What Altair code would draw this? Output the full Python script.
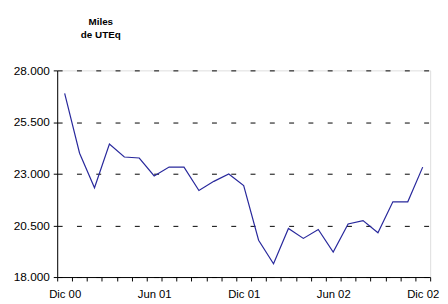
import altair as alt
import pandas as pd

months = ["Dic 00", "Ene 01", "Feb 01", "Mar 01", "Abr 01", "May 01", "Jun 01",
          "Jul 01", "Ago 01", "Sep 01", "Oct 01", "Nov 01", "Dic 01",
          "Ene 02", "Feb 02", "Mar 02", "Abr 02", "May 02", "Jun 02",
          "Jul 02", "Ago 02", "Sep 02", "Oct 02", "Nov 02", "Dic 02"]
values = [26890, 23990, 22320, 24440, 23810, 23760, 22890, 23320, 23320,
          22190, 22630, 22990, 22430, 19780, 18640, 20350, 19870, 20300,
          19210, 20570, 20730, 20140, 21640, 21640, 23320]
y_ticks = [18000, 20500, 23000, 25500, 28000]
label_every = 6

df = pd.DataFrame({"idx": list(range(len(months))), "mes": months, "valor": values})

FONT = "Liberation Sans"

tick_vals = [i - 0.5 for i in range(len(months) + 1)]
# label expression: label shown at the tick left of the category, shifted by labelOffset
expr = "''"
for i in range(len(months) - 1, -1, -1):
    if i % label_every == 0:
        expr = f"(datum.value == {i - 0.5}) ? '{months[i]}' : ({expr})"

x = alt.X("idx:Q",
          scale=alt.Scale(domain=[-0.5, len(months) - 0.5], nice=False, zero=False),
          axis=alt.Axis(values=tick_vals, labelExpr=expr, labelOffset=7.6,
                        title=None, grid=False, domainColor="black", tickColor="black",
                        tickSize=4, labelFontSize=11.5, labelColor="black",
                        labelPadding=8, labelFont=FONT, labelFlush=False,
                        labelOverlap=False))
y = alt.Y("valor:Q",
          scale=alt.Scale(domain=[18000, 28000], nice=False, zero=False),
          axis=alt.Axis(values=y_ticks,
                        labelExpr="replace(format(datum.value, ',.0f'), ',', '.')",
                        title=None, grid=True, gridColor="black", gridDash=[5, 14.6],
                        gridWidth=1, domainColor="black", tickColor="black", tickSize=4,
                        labelFontSize=12, labelColor="black", labelPadding=4,
                        labelFont=FONT))

chart = alt.Chart(df).mark_line(color="#28289c", strokeWidth=1.2).encode(
    x=x, y=y
).properties(
    width=379, height=210,
    title=alt.TitleParams(["Miles", "de UTEq"], anchor="start", align="center",
                          dx=89, fontSize=10, fontWeight="bold",
                          font="Liberation Sans", lineHeight=13, offset=25,
                          color="black"),
    autosize=alt.AutoSizeParams(type="none"),
    padding={"left": 50, "top": 61, "right": 10, "bottom": 26},
).configure_view(stroke="#a8a8a8", strokeWidth=1).configure(background="white")

chart.save("out.html", embed_options={"renderer": "svg", "actions": False})
